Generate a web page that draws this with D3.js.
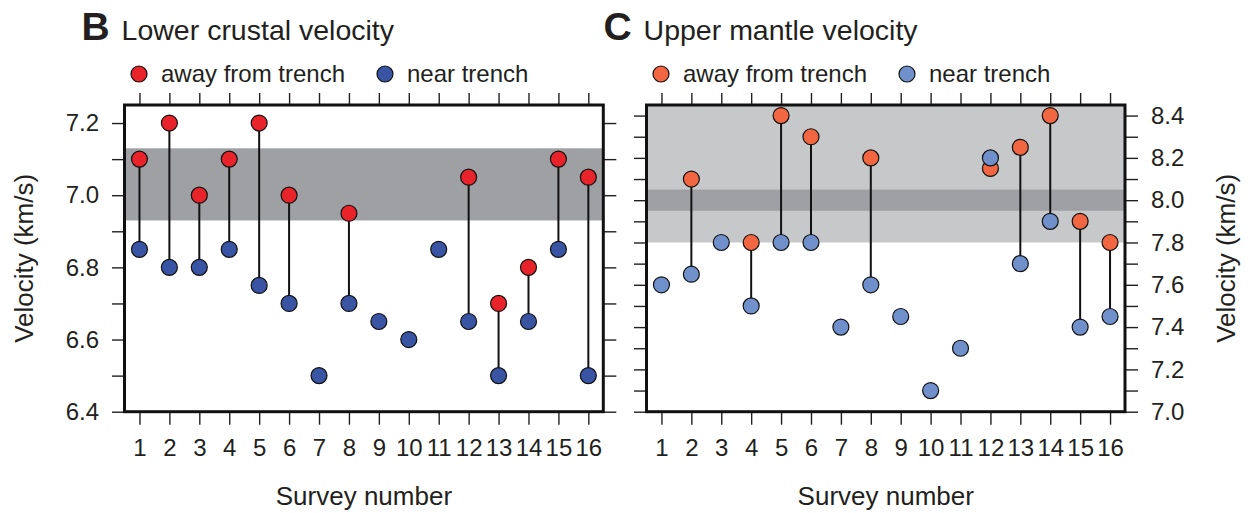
<!DOCTYPE html>
<html>
<head>
<meta charset="utf-8">
<script src="https://cdn.jsdelivr.net/npm/d3@7"></script>
<style>
  html, body { margin: 0; padding: 0; background: #fff; }
  svg text { font-family: "Liberation Sans", Arial, Helvetica, sans-serif; fill: #231f20; }
</style>
</head>
<body>
<svg id="chart" width="1254" height="513"></svg>
<script>
// survey numbers shared by both panels
const surveys = [1, 2, 3, 4, 5, 6, 7, 8, 9, 10, 11, 12, 13, 14, 15, 16];

// panel B - lower crustal velocity (km/s), null = no value
const crustAway = [7.1, 7.2, 7.0, 7.1, 7.2, 7.0, null, 6.95, null, null, null, 7.05, 6.7, 6.8, 7.1, 7.05];
const crustNear = [6.85, 6.8, 6.8, 6.85, 6.75, 6.7, 6.5, 6.7, 6.65, 6.6, 6.85, 6.65, 6.5, 6.65, 6.85, 6.5];
const crustBand = [6.93, 7.13];
const crustTicks = [6.4, 6.5, 6.6, 6.7, 6.8, 6.9, 7.0, 7.1, 7.2];
const crustLabels = [6.4, 6.6, 6.8, 7.0, 7.2];

// panel C - upper mantle velocity (km/s)
const mantleAway = [null, 8.1, null, 7.8, 8.4, 8.3, null, 8.2, null, null, null, 8.15, 8.25, 8.4, 7.9, 7.8];
const mantleNear = [7.6, 7.65, 7.8, 7.5, 7.8, 7.8, 7.4, 7.6, 7.45, 7.1, 7.3, 8.2, 7.7, 7.9, 7.4, 7.45];
const mantleWideBand = [7.8, 8.45];
const mantleBand = [7.95, 8.05];
const mantleTicks = [7.0, 7.1, 7.2, 7.3, 7.4, 7.5, 7.6, 7.7, 7.8, 7.9, 8.0, 8.1, 8.2, 8.3, 8.4];
const mantleLabels = [7.0, 7.2, 7.4, 7.6, 7.8, 8.0, 8.2, 8.4];

const svg = d3.select('#chart');
const plotTop = 105, plotBottom = 411.7;

const panels = [
    {
        letter: 'B', title: 'Lower crustal velocity',
        left: 124.5, right: 603.3,
        domain: [6.4, 7.25],
        away: crustAway, near: crustNear,
        bands: [{ range: crustBand, color: '#9fa0a3' }],
        ticks: crustTicks, labels: crustLabels,
        awayColor: '#e8232a', nearColor: '#3a54a4',
        labelSide: 'left',
        legendAway: 139, legendNear: 385
    },
    {
        letter: 'C', title: 'Upper mantle velocity',
        left: 646.5, right: 1125,
        domain: [7.0, 8.45],
        away: mantleAway, near: mantleNear,
        bands: [
            { range: mantleWideBand, color: '#c7c8ca' },
            { range: mantleBand, color: '#9fa0a3' }
        ],
        ticks: mantleTicks, labels: mantleLabels,
        awayColor: '#f26642', nearColor: '#7090cb',
        labelSide: 'right',
        legendAway: 661, legendNear: 907
    }
];

const fmt = d3.format('.1f');
const isLabel = (labels) => (v) => labels.some(l => Math.abs(l - v) < 1e-6);

panels.forEach(p => {
    const x = d3.scaleLinear().domain([0.5, 16.5]).range([p.left, p.right]);
    const y = d3.scaleLinear().domain(p.domain).range([plotBottom, plotTop]);
    const g = svg.append('g');

    // reference bands
    p.bands.forEach(b => {
        const hi = Math.min(b.range[1], p.domain[1]);
        g.append('rect')
            .attr('x', p.left)
            .attr('width', p.right - p.left)
            .attr('y', y(hi))
            .attr('height', y(b.range[0]) - y(hi))
            .attr('fill', b.color);
    });

    // axes: ticks outside the frame on all four sides
    const lab = isLabel(p.labels);
    const yFmtOn = v => lab(v) ? fmt(v) : '';
    const noLab = () => '';

    const styleAxis = (a) => {
        a.select('.domain').remove();
        a.selectAll('.tick line').attr('stroke', '#231f20').attr('stroke-width', 1.4);
        a.selectAll('.tick text')
            .attr('fill', '#231f20')
            .style('font-family', '"Liberation Sans", Arial, Helvetica, sans-serif')
            .style('font-size', '24px');
    };

    g.append('g').attr('transform', `translate(${p.left},0)`)
        .call(d3.axisLeft(y).tickValues(p.ticks).tickSize(12.5).tickPadding(13)
            .tickFormat(p.labelSide === 'left' ? yFmtOn : noLab))
        .call(styleAxis);
    g.append('g').attr('transform', `translate(${p.right},0)`)
        .call(d3.axisRight(y).tickValues(p.ticks).tickSize(13).tickPadding(13)
            .tickFormat(p.labelSide === 'right' ? yFmtOn : noLab))
        .call(styleAxis);
    g.append('g').attr('transform', `translate(0,${plotTop})`)
        .call(d3.axisTop(x).tickValues(surveys).tickSize(12).tickFormat(noLab))
        .call(styleAxis);
    g.append('g').attr('transform', `translate(0,${plotBottom})`)
        .call(d3.axisBottom(x).tickValues(surveys).tickSize(13).tickPadding(14))
        .call(styleAxis);

    // stems joining the two measurements of a survey
    const pairs = surveys.map((s, i) => ({ s, away: p.away[i], near: p.near[i] }));
    g.selectAll('line.stem')
        .data(pairs.filter(d => d.away != null && d.near != null))
        .join('line')
        .attr('class', 'stem')
        .attr('x1', d => x(d.s)).attr('x2', d => x(d.s))
        .attr('y1', d => y(d.away)).attr('y2', d => y(d.near))
        .attr('stroke', '#111').attr('stroke-width', 2);

    g.selectAll('circle.away')
        .data(pairs.filter(d => d.away != null))
        .join('circle')
        .attr('class', 'away')
        .attr('cx', d => x(d.s)).attr('cy', d => y(d.away)).attr('r', 8)
        .attr('fill', p.awayColor).attr('stroke', '#111').attr('stroke-width', 1.2);

    g.selectAll('circle.near')
        .data(pairs.filter(d => d.near != null))
        .join('circle')
        .attr('class', 'near')
        .attr('cx', d => x(d.s)).attr('cy', d => y(d.near)).attr('r', 8)
        .attr('fill', p.nearColor).attr('stroke', '#111').attr('stroke-width', 1.2);

    // frame
    g.append('rect')
        .attr('x', p.left).attr('y', plotTop)
        .attr('width', p.right - p.left).attr('height', plotBottom - plotTop)
        .attr('fill', 'none').attr('stroke', '#111').attr('stroke-width', 3);

    // title
    const t = g.append('text').attr('x', p.left - 43).attr('y', 39.5);
    t.append('tspan').text(p.letter).style('font-weight', 'bold').style('font-size', '39px');
    t.append('tspan').text(' ' + p.title).style('font-size', '28.5px').attr('dx', 4);

    // legend
    const legend = [
        { cx: p.legendAway, color: p.awayColor, label: 'away from trench' },
        { cx: p.legendNear, color: p.nearColor, label: 'near trench' }
    ];
    legend.forEach(l => {
        g.append('circle').attr('cx', l.cx).attr('cy', 74).attr('r', 8)
            .attr('fill', l.color).attr('stroke', '#111').attr('stroke-width', 1.2);
        g.append('text').attr('x', l.cx + 22).attr('y', 82)
            .style('font-size', '24px').text(l.label);
    });

    // axis titles
    g.append('text')
        .attr('x', (p.left + p.right) / 2).attr('y', 505)
        .attr('text-anchor', 'middle').style('font-size', '26px')
        .text('Survey number');
    const ax = p.labelSide === 'left' ? 33 : 1235;
    g.append('text')
        .attr('transform', `translate(${ax},${(plotTop + plotBottom) / 2}) rotate(-90)`)
        .attr('text-anchor', 'middle').style('font-size', '26px')
        .text('Velocity (km/s)');
});
</script>
</body>
</html>
